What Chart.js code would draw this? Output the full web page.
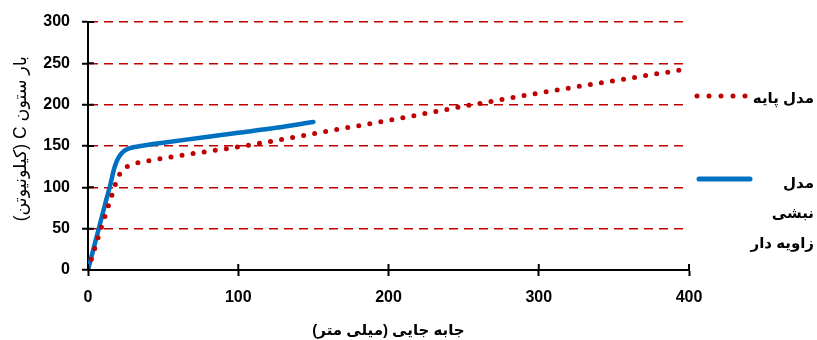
<!DOCTYPE html>
<html>
<head>
<meta charset="utf-8">
<script src="https://cdn.jsdelivr.net/npm/chart.js@4"></script>
<style>
  html, body { margin: 0; padding: 0; background: #fff; }
  #wrap { width: 817px; height: 340px; }
</style>
</head>
<body>
<div id="wrap"><canvas id="c" width="817" height="340" dir="rtl"></canvas></div>
<script>
// ---- data ----
const baseX = [0, 9, 16, 20, 23, 27, 40, 63, 93, 123, 150, 200, 250, 300, 350, 395];
const baseY = [0, 52, 91, 112, 121, 126, 132, 139, 147, 156, 165, 181, 198, 214, 229, 242];
const angleX = [0, 4, 8, 12, 15, 17, 19, 21, 24, 28, 35, 50, 75, 100, 125, 150];
const angleY = [0, 28, 56, 84, 104, 120, 131, 138, 144, 147.5, 150, 154, 160, 166, 172, 179];
const seriesNames = ['مدل پایه', 'مدل نبشی زاویه دار'];
const xTicks = [0, 100, 200, 300, 400];
const yTicks = [0, 50, 100, 150, 200, 250, 300];
const xTitle = 'جابه جایی (میلی متر)';
const yTitle = 'بار ستون C (کیلونیوتن)';

const RED = '#c00000';
const BLUE = '#0070c0';
const FONT = "'Liberation Sans', 'DejaVu Sans', sans-serif";

const toPts = (xs, ys) => xs.map((x, i) => ({ x: x, y: ys[i] }));

// inner half of the crossing tick marks
const crossTicks = {
  id: 'crossTicks',
  afterDatasetsDraw(chart) {
    const ctx = chart.ctx;
    const xs = chart.scales.x, ys = chart.scales.y;
    ctx.save();
    ctx.strokeStyle = '#000';
    ctx.lineWidth = 2;
    ctx.beginPath();
    xTicks.forEach(v => {
      const px = xs.getPixelForValue(v);
      ctx.moveTo(px, ys.bottom);
      ctx.lineTo(px, ys.bottom - 6);
    });
    yTicks.forEach(v => {
      const py = ys.getPixelForValue(v);
      ctx.moveTo(xs.left, py);
      ctx.lineTo(xs.left + 6, py);
    });
    ctx.stroke();
    ctx.restore();
  }
};

// legend at right
const sideLegend = {
  id: 'sideLegend',
  afterDraw(chart) {
    const ctx = chart.ctx;
    ctx.save();
    // red dotted sample
    ctx.strokeStyle = RED;
    ctx.lineWidth = 5;
    ctx.lineCap = 'round';
    ctx.setLineDash([0, 12]);
    ctx.beginPath();
    ctx.moveTo(697, 96);
    ctx.lineTo(746, 96);
    ctx.stroke();
    // blue sample
    ctx.setLineDash([]);
    ctx.strokeStyle = BLUE;
    ctx.lineWidth = 5;
    ctx.beginPath();
    ctx.moveTo(699, 179);
    ctx.lineTo(750, 179);
    ctx.stroke();
    // texts
    ctx.fillStyle = '#000';
    ctx.font = "bold 15px " + FONT;
    ctx.textAlign = 'right';
    ctx.textBaseline = 'middle';
    ctx.fillText(seriesNames[0], 814, 99);
    const parts = ['مدل', 'نبشی', 'زاویه دار'];
    ctx.fillText(parts[0], 814, 184);
    ctx.fillText(parts[1], 814, 214);
    ctx.fillText(parts[2], 814, 244);
    ctx.restore();
  }
};

new Chart(document.getElementById('c'), {
  type: 'line',
  data: {
    datasets: [
      {
        label: seriesNames[0],
        data: toPts(baseX, baseY),
        borderColor: RED,
        borderWidth: 5,
        borderDash: [0, 11.2],
        borderCapStyle: 'round',
        pointRadius: 0,
        cubicInterpolationMode: 'monotone',
        fill: false
      },
      {
        label: seriesNames[1],
        data: toPts(angleX, angleY),
        borderColor: BLUE,
        borderWidth: 4.5,
        borderCapStyle: 'round',
        borderJoinStyle: 'round',
        pointRadius: 0,
        cubicInterpolationMode: 'monotone',
        fill: false
      }
    ]
  },
  options: {
    responsive: false,
    animation: false,
    devicePixelRatio: 1,
    layout: { padding: { left: 0, right: 128, top: 22, bottom: 0 } },
    plugins: { legend: { display: false }, tooltip: { enabled: false } },
    scales: {
      x: {
        type: 'linear',
        min: 0, max: 400,
        afterFit(s) { s.height = 70; },
        afterBuildTicks(s) { s.ticks = xTicks.map(v => ({ value: v })); },
        ticks: { color: '#000', font: { family: FONT, size: 16, weight: 'bold' }, padding: 12, maxRotation: 0 },
        grid: { drawOnChartArea: false, drawTicks: true, tickLength: 6, tickColor: '#000', tickWidth: 2 },
        border: { color: '#000', width: 2 },
        title: { display: true, text: xTitle, color: '#000', font: { family: FONT, size: 15, weight: 'bold' }, padding: { top: 0, bottom: 0 } }
      },
      y: {
        type: 'linear',
        min: 0, max: 300,
        afterFit(s) { s.width = 88; },
        afterBuildTicks(s) { s.ticks = yTicks.map(v => ({ value: v })); },
        ticks: { color: '#000', font: { family: FONT, size: 16, weight: 'bold' }, padding: 12 },
        grid: {
          color: c => (c.tick && c.tick.value === 0) ? 'rgba(0,0,0,0)' : RED,
          lineWidth: 1.5,
          tickLength: 6, tickColor: '#000', tickWidth: 2
        },
        border: { color: '#000', width: 2, dash: [9, 6] },
        title: { display: true, text: yTitle + '\u00A0\u00A0\u00A0', color: '#000', font: { family: FONT, size: 17.5, weight: 'normal' }, padding: { top: 11, bottom: 0 } }
      }
    }
  },
  plugins: [crossTicks, sideLegend]
});
</script>
</body>
</html>
